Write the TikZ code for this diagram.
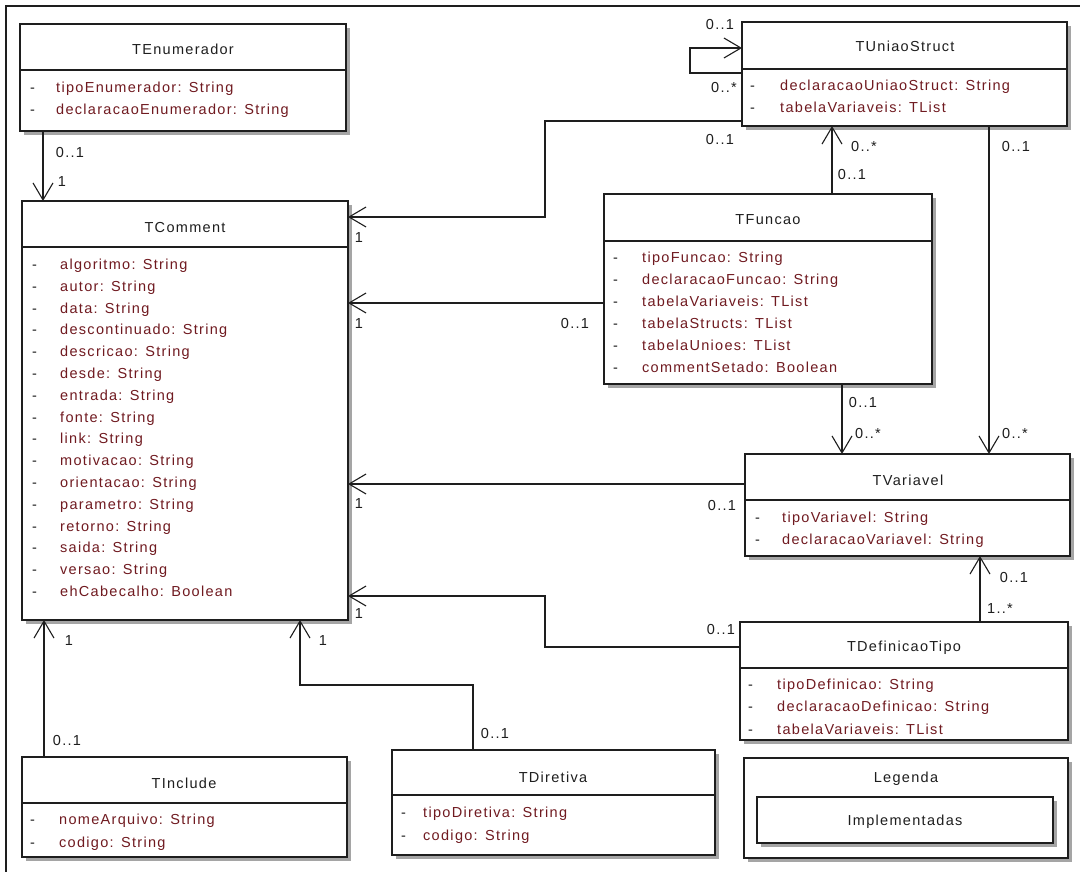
\documentclass[tikz,border=0pt]{standalone}
\usepackage{fontspec}
\setmainfont{Liberation Sans}[LetterSpace=9]
\usetikzlibrary{arrows.meta,shadows,calc}
\definecolor{ink}{RGB}{30,30,30}
\definecolor{attrred}{RGB}{112,26,32}
\definecolor{shade}{RGB}{165,165,165}

% rows of a class compartment: prefix, dash x, text x, first baseline, row step, list name/type
\newcommand\attrrows[6]{%
  \foreach \n/\t [count=\i] in {#6} {
    \node[dashtxt] (#1-d\i) at (#2, #4+\i*#5-#5) {-};
    \node[attrtxt] (#1-a\i) at (#3, #4+\i*#5-#5) {\n:\ \hspace{2pt}\t};
  }}

\begin{document}
\begin{tikzpicture}[x=1pt,y=-1pt,
  classbox/.style={draw=ink, line width=1.3pt, fill=white, inner sep=0pt,
    outer sep=0pt, anchor=north west,
    general shadow={fill=shade, shadow xshift=4pt, shadow yshift=-4pt}},
  sepline/.style={draw=ink, line width=1.2pt},
  txt/.style={font=\fontsize{14.5}{17}\selectfont, inner sep=0pt},
  titletxt/.style={txt, text=ink, anchor=base},
  attrtxt/.style={txt, text=attrred, anchor=base west},
  dashtxt/.style={txt, text=ink, anchor=base west},
  multtxt/.style={txt, text=ink, anchor=base},
  assoc/.style={draw=ink, line width=1.2pt,
    -{Straight Barb[length=17pt, width=20pt, line width=1.1pt]}},
]
\useasboundingbox (0,0) rectangle (1080,872);
\fill[white] (0,0) rectangle (1080,872);
% outer frame
\draw[ink, line width=2.2pt] (6,872) -- (6,6) -- (1080,6);

% ---------- class boxes ----------
\node[classbox, minimum width=326pt, minimum height=107pt] (enum) at (20,24) {};
\node[classbox, minimum width=326pt, minimum height=419pt] (comment) at (22,201) {};
\node[classbox, minimum width=325pt, minimum height=104pt] (uniao) at (742,22) {};
\node[classbox, minimum width=328pt, minimum height=190pt] (funcao) at (604,194) {};
\node[classbox, minimum width=325pt, minimum height=102pt] (variavel) at (745,454) {};
\node[classbox, minimum width=328pt, minimum height=118pt] (deftipo) at (740,622) {};
\node[classbox, minimum width=325pt, minimum height=100pt] (include) at (22,757) {};
\node[classbox, minimum width=323pt, minimum height=105pt] (diretiva) at (392,750) {};
\node[classbox, minimum width=324pt, minimum height=100pt] (legenda) at (744,758) {};
\node[classbox, minimum width=296pt, minimum height=46pt] (impl) at (757,797) {};

% header separators
\draw[sepline] (enum.west |- 0,70) -- (enum.east |- 0,70);
\draw[sepline] (comment.west |- 0,247) -- (comment.east |- 0,247);
\draw[sepline] (uniao.west |- 0,69) -- (uniao.east |- 0,69);
\draw[sepline] (funcao.west |- 0,241) -- (funcao.east |- 0,241);
\draw[sepline] (variavel.west |- 0,500) -- (variavel.east |- 0,500);
\draw[sepline] (deftipo.west |- 0,668) -- (deftipo.east |- 0,668);
\draw[sepline] (include.west |- 0,803) -- (include.east |- 0,803);
\draw[sepline] (diretiva.west |- 0,795) -- (diretiva.east |- 0,795);

% ---------- titles ----------
\node[titletxt] (enum-t) at (183,55) {TEnumerador};
\node[titletxt] (comment-t) at (185,233) {TComment};
\node[titletxt] (uniao-t) at (905,52) {TUniaoStruct};
\node[titletxt] (funcao-t) at (768,225) {TFuncao};
\node[titletxt] (variavel-t) at (908,485) {TVariavel};
\node[titletxt] (deftipo-t) at (904,651) {TDefinicaoTipo};
\node[titletxt] (include-t) at (184,788) {TInclude};
\node[titletxt] (diretiva-t) at (553,782) {TDiretiva};
\node[titletxt] (legenda-t) at (906,782) {Legenda};
\node[titletxt] (impl-t) at (905,825) {Implementadas};

% ---------- attributes ----------
\attrrows{enum}{30}{56}{92.5}{22}{tipoEnumerador/String, declaracaoEnumerador/String}
\attrrows{comment}{32}{60}{269.5}{21.8}{algoritmo/String, autor/String, data/String,
  descontinuado/String, descricao/String, desde/String, entrada/String, fonte/String,
  link/String, motivacao/String, orientacao/String, parametro/String, retorno/String,
  saida/String, versao/String, ehCabecalho/Boolean}
\attrrows{uniao}{750}{780}{90.5}{22}{declaracaoUniaoStruct/String, tabelaVariaveis/TList}
\attrrows{funcao}{613}{642}{262.5}{22}{tipoFuncao/String, declaracaoFuncao/String,
  tabelaVariaveis/TList, tabelaStructs/TList, tabelaUnioes/TList, commentSetado/Boolean}
\attrrows{variavel}{755}{782}{522.5}{22}{tipoVariavel/String, declaracaoVariavel/String}
\attrrows{deftipo}{748}{777}{689.5}{22.3}{tipoDefinicao/String, declaracaoDefinicao/String,
  tabelaVariaveis/TList}
\attrrows{include}{30}{59}{824.5}{22.5}{nomeArquivo/String, codigo/String}
\attrrows{diretiva}{401}{423}{817.5}{22.5}{tipoDiretiva/String, codigo/String}

% ---------- associations ----------
\draw[assoc] (enum.south -| 43,0) -- (comment.north -| 43,0);
\draw[assoc] (uniao.west |- 0,121) -| (545,217) -- (comment.east |- 0,217);
\draw[assoc] (funcao.west |- 0,303) -- (comment.east |- 0,303);
\draw[assoc] (variavel.west |- 0,484) -- (comment.east |- 0,484);
\draw[assoc] (deftipo.west |- 0,647) -| (545,596) -- (comment.east |- 0,596);
\draw[assoc] (include.north -| 44,0) -- (comment.south -| 44,0);
\draw[assoc] (diretiva.north -| 473,0) |- (300,685) -- (comment.south -| 300,0);
\draw[assoc] (funcao.north -| 832,0) -- (uniao.south -| 832,0);
\draw[assoc] (uniao.south -| 989,0) -- (variavel.north -| 989,0);
\draw[assoc] (funcao.south -| 842,0) -- (variavel.north -| 842,0);
\draw[assoc] (deftipo.north -| 980,0) -- (variavel.south -| 980,0);
\draw[assoc] (uniao.west |- 0,73) -| (690,48) -- (uniao.west |- 0,48);

% ---------- multiplicities ----------
\node[multtxt] (m1) at (70,158) {0..1};
\node[multtxt] (m2) at (62,187) {1};
\node[multtxt] (m3) at (359,242) {1};
\node[multtxt] (m4) at (720,145) {0..1};
\node[multtxt] (m5) at (359,328) {1};
\node[multtxt] (m6) at (575,328) {0..1};
\node[multtxt] (m7) at (359,508) {1};
\node[multtxt] (m8) at (722,510) {0..1};
\node[multtxt] (m9) at (359,618) {1};
\node[multtxt] (m10) at (721,634) {0..1};
\node[multtxt] (m11) at (69,645) {1};
\node[multtxt] (m12) at (67,745) {0..1};
\node[multtxt] (m13) at (323,645) {1};
\node[multtxt] (m14) at (495,738) {0..1};
\node[multtxt] (m15) at (864,152) {0..*};
\node[multtxt] (m16) at (852,180) {0..1};
\node[multtxt] (m17) at (1016,152) {0..1};
\node[multtxt] (m18) at (1015,438) {0..*};
\node[multtxt] (m19) at (863,407) {0..1};
\node[multtxt] (m20) at (868,438) {0..*};
\node[multtxt] (m21) at (1014,582) {0..1};
\node[multtxt] (m22) at (1000,613) {1..*};
\node[multtxt] (m23) at (720,30) {0..1};
\node[multtxt] (m24) at (724,93) {0..*};
\end{tikzpicture}
\end{document}
